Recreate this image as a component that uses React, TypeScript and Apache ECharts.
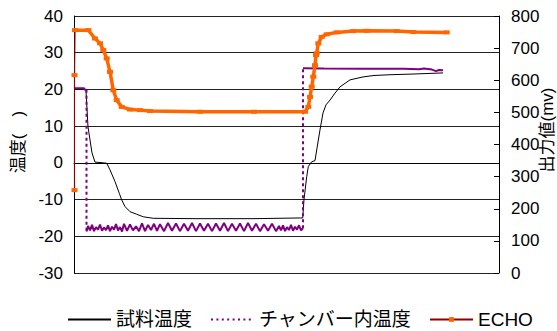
import React, { useEffect, useRef } from "react";
import * as echarts from "echarts";

// x positions are elapsed time in arbitrary units (0..425 across the plot)
const legendNames = ["試料温度", "チャンバー内温度", "ECHO"];
const leftTicks = { min: -30, max: 40, interval: 10 };
const rightTicks = { min: 0, max: 800, interval: 100 };

const sampleTime = [1, 11, 12, 14, 18, 21, 26, 32.7, 36, 41, 45.3, 47.7, 51, 56, 62.7, 69.3, 79.3, 120, 180, 228.7, 230, 232.7, 234.3, 237.7, 241, 243, 246, 249, 252, 256, 261, 266, 276, 289, 300, 316, 340, 369];
const sampleTemp = [20.0, 20.0, 19.5, 9.8, 2.7, 0.2, 0.1, -0.1, -1.9, -5.1, -8.3, -10.1, -11.9, -13.3, -14.0, -14.7, -15.1, -15.2, -15.2, -15.0, -10.0, -3.8, -1.0, 0.3, 0.6, 4.0, 9.0, 13.6, 15.8, 17.1, 19.0, 20.7, 22.6, 23.4, 23.8, 24.0, 24.2, 24.5];

const chamberTime = [1, 10, 11, 12.5, 12.5, 14, 16, 18, 20, 22, 24, 26, 28, 30, 32, 34, 36, 38, 40, 42, 44, 46, 48, 50, 53, 56, 59, 62, 65, 68, 71, 74, 77, 80, 83, 86, 90, 94, 98, 102, 106, 110, 114, 118, 122, 126, 130, 134, 138, 142, 146, 150, 154, 158, 162, 166, 170, 174, 178, 182, 186, 190, 194, 198, 202, 205, 207, 209, 211, 213, 215, 217, 219, 221, 223, 225, 227, 229, 229, 250, 290, 330, 345, 350, 358, 362, 365, 369];
const chamberTemp = [20.3, 20.3, 19.9, 19.9, -18.7, -17.2, -18.4, -16.9, -18.6, -17.5, -18.2, -16.8, -18.5, -17.6, -18.3, -17.0, -18.6, -17.4, -18.2, -16.7, -18.4, -17.5, -18.7, -16.6, -18.5, -16.8, -18.4, -17.3, -18.6, -16.5, -18.6, -16.9, -18.3, -16.6, -18.5, -16.7, -18.6, -16.4, -18.5, -16.5, -18.6, -16.6, -18.5, -16.4, -18.6, -16.5, -18.5, -16.6, -18.6, -16.5, -18.5, -16.4, -18.6, -16.6, -18.5, -16.5, -18.6, -16.4, -18.5, -16.6, -18.6, -16.7, -18.5, -16.6, -18.6, -17.2, -18.4, -17.0, -18.6, -17.5, -18.3, -16.9, -18.5, -17.4, -18.2, -17.0, -18.4, -17.8, 25.8, 25.7, 25.6, 25.6, 25.5, 25.7, 25.4, 25.0, 25.3, 25.2];

const echoTime = [0.5, 0.5, 1, 14.3, 21, 26, 29.3, 32.7, 36, 39.3, 42.7, 47.7, 56, 66, 76, 126, 180, 231, 234.3, 236, 237.7, 239.3, 241, 242, 242.7, 244.3, 247.7, 252.7, 262.7, 279.3, 292.7, 322.7, 339.3, 372.7];
const echoMv = [258, 616, 756, 756, 730, 715, 694, 668, 626, 569, 538, 517, 509, 507, 504, 502, 502, 502, 517, 548, 580, 611, 647, 678, 684, 715, 735, 743, 749, 753, 754, 753, 750, 749];

const zip = (xs: number[], ys: number[]) => xs.map((x, i) => [x, ys[i]]);

const FONT = "'Liberation Sans', 'Noto Sans CJK JP', sans-serif";
const PURPLE = "#800080";

export default function App() {
  const ref = useRef<HTMLDivElement>(null);
  useEffect(() => {
    document.body.style.margin = "0";
    if (!ref.current) return;
    const chart = echarts.init(ref.current, undefined, { renderer: "svg" });
    const echoData = zip(echoTime, echoMv);

    // chamber: continuous parts solid, big jumps dotted
    const chamberSolid: any[] = [];
    const chamberJumps: any[] = [];
    chamberTime.forEach((x, i) => {
      if (i > 0 && Math.abs(chamberTemp[i] - chamberTemp[i - 1]) > 20) {
        chamberSolid.push("-");
        if (chamberJumps.length) chamberJumps.push("-");
        chamberJumps.push([chamberTime[i - 1], chamberTemp[i - 1]]);
        chamberJumps.push([x, chamberTemp[i]]);
      }
      chamberSolid.push([x, chamberTemp[i]]);
    });

    const hidden = { color: "transparent", borderColor: "transparent", opacity: 0 };
    chart.setOption({
      animation: false,
      grid: { left: 74, right: 58, top: 16, bottom: 58 },
      legend: {
        data: [
          { name: legendNames[0], itemStyle: hidden },
          { name: legendNames[1], itemStyle: hidden, lineStyle: { type: [2, 3.4], width: 2, color: PURPLE } },
          { name: legendNames[2] },
        ],
        left: 62,
        top: 305,
        itemWidth: 43,
        itemHeight: 6,
        itemGap: 18,
        textStyle: { fontSize: 19, color: "#000", fontFamily: FONT },
      },
      xAxis: {
        type: "value",
        min: 0,
        max: 425,
        axisLine: { show: true, lineStyle: { color: "#000", width: 1 } },
        axisTick: { show: false },
        axisLabel: { show: false },
        splitLine: { show: false },
      },
      yAxis: [
        {
          type: "value",
          min: leftTicks.min,
          max: leftTicks.max,
          interval: leftTicks.interval,
          axisLine: { show: true, lineStyle: { color: "#000", width: 1 } },
          axisTick: { show: false },
          axisLabel: { fontSize: 17, color: "#000", margin: 11, fontFamily: FONT },
          splitLine: { show: true, lineStyle: { color: "#222", width: 1 } },
        },
        {
          type: "value",
          min: rightTicks.min,
          max: rightTicks.max,
          interval: rightTicks.interval,
          position: "right",
          axisLine: { show: true, lineStyle: { color: "#000", width: 1 } },
          axisTick: { show: true, inside: true, length: 5, lineStyle: { color: "#000" } },
          axisLabel: { fontSize: 17, color: "#000", margin: 12, fontFamily: FONT },
          splitLine: { show: false },
        },
      ],
      graphic: [
        {
          type: "text",
          x: 18,
          y: 142,
          rotation: Math.PI / 2,
          style: {
            text: "温度(　)",
            fontSize: 17,
            fill: "#000",
            fontFamily: FONT,
            align: "center",
            verticalAlign: "middle",
          },
        },
        {
          type: "text",
          x: 547,
          y: 130,
          rotation: Math.PI / 2,
          style: {
            text: "出力値(mv)",
            fontSize: 17,
            fill: "#000",
            fontFamily: FONT,
            align: "center",
            verticalAlign: "middle",
          },
        },
      ],
      series: [
        {
          name: "試料温度",
          type: "line",
          yAxisIndex: 0,
          data: zip(sampleTime, sampleTemp),
          symbol: "none",
          lineStyle: { color: "#000", width: 1 },
          itemStyle: { color: "#000" },
          z: 2,
        },
        {
          name: "チャンバー内温度",
          type: "line",
          yAxisIndex: 0,
          data: chamberSolid,
          connectNulls: false,
          symbol: "none",
          lineStyle: { color: PURPLE, width: 2 },
          itemStyle: { color: PURPLE },
          z: 3,
        },
        {
          name: "チャンバー内温度",
          type: "line",
          yAxisIndex: 0,
          data: chamberJumps,
          connectNulls: false,
          symbol: "none",
          lineStyle: { color: PURPLE, width: 2, type: [3, 3] },
          itemStyle: { color: PURPLE },
          z: 3,
        },
        {
          name: "ECHO",
          type: "line",
          yAxisIndex: 1,
          data: echoData,
          symbol: "rect",
          symbolSize: [6, 4],
          showAllSymbol: true,
          lineStyle: { color: "#8B0000", width: 1.2 },
          itemStyle: { color: "#FF6600" },
          z: 4,
        },
        {
          name: "ECHO_line",
          type: "line",
          yAxisIndex: 1,
          data: echoData.slice(2),
          symbol: "none",
          silent: true,
          lineStyle: { color: "#FF6600", width: 3.5 },
          itemStyle: { color: "#FF6600" },
          z: 5,
        },
      ],
    });
    return () => chart.dispose();
  }, []);
  return <div ref={ref} style={{ width: 557, height: 331 }} />;
}
